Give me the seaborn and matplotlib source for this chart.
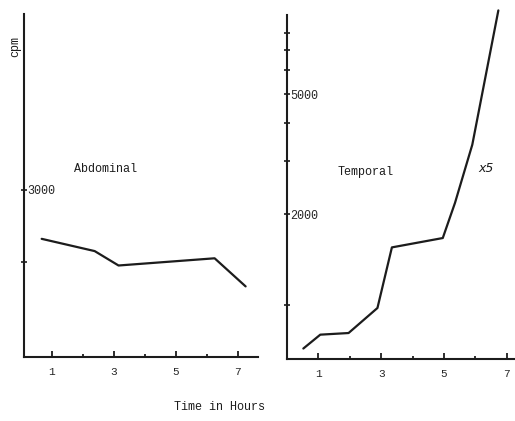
import pandas as pd
import matplotlib.pyplot as plt
import seaborn as sns
from matplotlib.ticker import NullLocator, FixedLocator

# --- DATA ---
abd_hours = [0.67, 2.38, 3.15, 6.25, 7.25]
abd_cpm = [2320, 2150, 1950, 2050, 1660]

temp_hours = [0.52, 1.06, 1.96, 2.88, 3.34, 4.96, 5.35, 5.90, 6.73]
temp_cpm = [715, 795, 805, 975, 1550, 1665, 2180, 3400, 9500]

abd_yticks = [2000, 3000]
abd_ylabels = ["", "3000"]
temp_yticks = [1000, 2000, 3000, 4000, 5000, 6000, 7000, 8000]
temp_ylabels = ["", "2000", "", "", "5000", "", "", ""]
x_major = [1, 3, 5, 7]
x_minor = [2, 4, 6]

abd = pd.DataFrame({"hours": abd_hours, "cpm": abd_cpm})
temp = pd.DataFrame({"hours": temp_hours, "cpm": temp_cpm})

# --- STYLE ---
sns.set_style("white")
plt.rcParams["font.family"] = ["Liberation Mono", "DejaVu Sans Mono"]
ink = "#1c1c1c"

fig = plt.figure(figsize=(5.15, 4.21), dpi=100)
ax1 = fig.add_axes([0.0466, 0.152, 0.4544, 0.8147])
ax2 = fig.add_axes([0.5573, 0.1473, 0.4427, 0.817])

# --- PLOT ---
sns.lineplot(data=abd, x="hours", y="cpm", sort=False, color=ink, lw=1.6, ax=ax1)
sns.lineplot(data=temp, x="hours", y="cpm", sort=False, color=ink, lw=1.6, ax=ax2)
ax2.lines[0].set_clip_on(False)

ax1.set_xlim(0.1, 7.65)
ax1.set_ylim(680, 5440)
ax2.set_xlim(0, 7.26)
ax2.set_yscale("log")
ax2.set_ylim(660, 9170)

for ax, yt, yl in [(ax1, abd_yticks, abd_ylabels), (ax2, temp_yticks, temp_ylabels)]:
    ax.set_facecolor("white")
    ax.spines["top"].set_visible(False)
    ax.spines["right"].set_visible(False)
    for s in ["left", "bottom"]:
        ax.spines[s].set_linewidth(1.5)
        ax.spines[s].set_color(ink)
    ax.xaxis.set_major_locator(FixedLocator(x_major))
    ax.xaxis.set_minor_locator(FixedLocator(x_minor))
    ax.set_xticklabels([str(v) for v in x_major])
    ax.yaxis.set_major_locator(FixedLocator(yt))
    ax.yaxis.set_minor_locator(NullLocator())
    ax.set_yticklabels(yl)
    ax.tick_params(axis="x", which="major", direction="in", length=4, width=1.3,
                   color=ink, labelsize=8, pad=7, bottom=True)
    ax.tick_params(axis="x", which="minor", direction="in", length=2.5, width=1.3,
                   color=ink, bottom=True)
    ax.tick_params(axis="y", which="major", direction="inout", length=5, width=1.2,
                   color=ink, labelsize=8.5, pad=-4.7, left=True)
    for lbl in ax.get_yticklabels():
        lbl.set_horizontalalignment("left")
    ax.set_xlabel("")
    ax.set_ylabel("")

# --- TEXT ---
fig.text(0.03, 0.89, "cpm", rotation=90, fontsize=8.5, ha="center", va="center", color=ink)
ax1.text(0.214, 0.548, "Abdominal", transform=ax1.transAxes, fontsize=8.5, va="center", color=ink)
ax2.text(0.22, 0.544, "Temporal", transform=ax2.transAxes, fontsize=8.5, va="center", color=ink)
ax2.text(0.84, 0.553, "x5", transform=ax2.transAxes, fontsize=9, style="italic",
         family="DejaVu Sans", va="center", color=ink)
fig.text(0.427, 0.033, "Time in Hours", fontsize=8.5, ha="center", va="center", color=ink)

plt.savefig("out.png", dpi=100)
